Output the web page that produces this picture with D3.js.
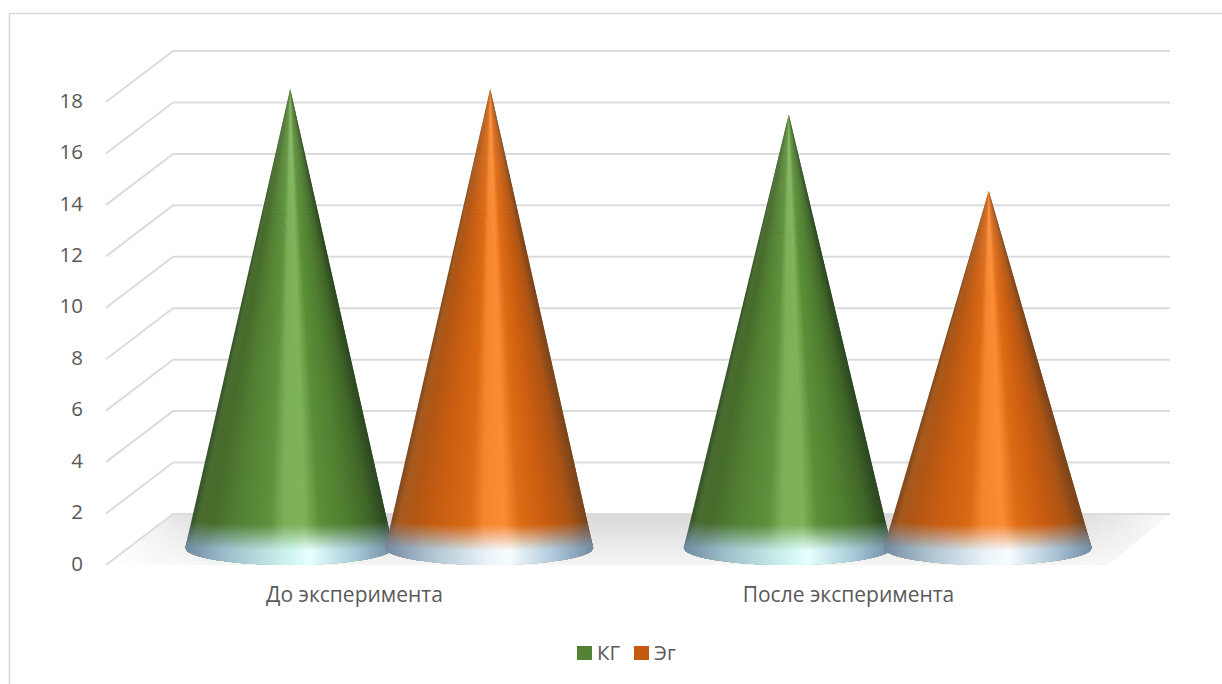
<!DOCTYPE html>
<html>
<head>
<meta charset="utf-8">
<script src="https://cdn.jsdelivr.net/npm/d3@7/dist/d3.min.js"></script>
<style>
  html, body { margin: 0; padding: 0; background: #fff; }
  svg { display: block; }
  text { font-family: "Open Sans", "Noto Sans", sans-serif; fill: #595959; }
</style>
</head>
<body>
<svg id="chart" width="1222" height="684"></svg>
<script>
const categories = ["До эксперимента", "После эксперимента"];
const seriesNames = ["КГ", "Эг"];
const kgValues = [18, 17];
const egValues = [18, 14];
const seriesValues = [kgValues, egValues];
const tickValues = [0, 2, 4, 6, 8, 10, 12, 14, 16, 18];

const seriesColors = ["#548235", "#C55A11"];
// Shading across a cone, from its left silhouette to its right one.
const greenShade = [[0, "#35522a"], [.03, "#4a6c30"], [.1, "#466c2b"], [.22, "#527f33"], [.4, "#5e913c"], [.47, "#7bb058"], [.58, "#7fb35b"], [.66, "#5a8f38"], [.8, "#4f7e30"], [.92, "#406627"], [1, "#2c4722"]];
const orangeShade = [[0, "#7f4a22"], [.03, "#a55a1e"], [.1, "#b25614"], [.22, "#c65d12"], [.4, "#db6a14"], [.47, "#f4862e"], [.58, "#fb8b35"], [.66, "#de6c15"], [.8, "#c85c10"], [.92, "#ab5415"], [1, "#79441c"]];
const shades = [greenShade, orangeShade];
const glowStops = [
  [[0, "#6f8a9f"], [.2, "#9dbfcb"], [.5, "#d0f5f0"], [.6, "#e6ffff"], [.8, "#accfdb"], [1, "#6f8ba3"]],
  [[0, "#73889f"], [.2, "#a9bfce"], [.5, "#ecf5fa"], [.6, "#f6fcff"], [.8, "#b2cbdc"], [1, "#708aa3"]]
];

const svg = d3.select("#chart");
const defs = svg.append("defs");

// Frame of the chart area: only its top and left edges fall inside the page.
svg.append("path").attr("d", "M9.5,684V13.5H1222").attr("fill", "none").attr("stroke", "#d9d9d9").attr("stroke-width", 1.6);

// Plot box: front edge of the value axis and the shift to the back wall.
const y = d3.scaleLinear().domain([0, 18]).range([565, 102]);
const frontLeft = 106, frontRight = 1108, backLeft = 173, backRight = 1170, depth = 51;
const floorPoints = [[frontLeft, y(0)], [backLeft, y(0) - depth], [backRight, y(0) - depth], [frontRight, y(0)]].join(" ");

// Floor: grey toward the back wall, washing out to white at the front and the side corners
const floorGrad = defs.append("linearGradient").attr("id", "floorFill").attr("x1", 0).attr("x2", 1).attr("y1", 0).attr("y2", 0);
[[0, "#ffffff"], [.03, "#f4f4f4"], [.1, "#d9d9d9"], [.9, "#d9d9d9"], [.96, "#ebebeb"], [1, "#fbfbfb"]].forEach(([o, c]) =>
  floorGrad.append("stop").attr("offset", o).attr("stop-color", c));
const floorFade = defs.append("linearGradient").attr("id", "floorFade").attr("x1", 0).attr("x2", 0).attr("y1", 0).attr("y2", 1);
[[0, 0], [1, .75]].forEach(([o, a]) =>
  floorFade.append("stop").attr("offset", o).attr("stop-color", "#fff").attr("stop-opacity", a));
svg.append("polygon").attr("points", floorPoints).attr("fill", "url(#floorFill)");
svg.append("polygon").attr("points", floorPoints).attr("fill", "url(#floorFade)");

// Gridlines run along the side wall and then the back wall
svg.append("g").selectAll("path").data(tickValues).join("path")
  .attr("d", d => `M${frontLeft},${y(d)}L${backLeft},${y(d) - depth}H${backRight}`)
  .attr("fill", "none").attr("stroke", "#dcdcdc").attr("stroke-width", 2);

// Value axis labels
const yAxis = d3.axisLeft(y).tickValues(tickValues).tickSize(0).tickPadding(0);
const axisG = svg.append("g").attr("transform", "translate(83,-2)").call(yAxis);
axisG.select(".domain").remove();
axisG.selectAll("text").style("font-size", "20.5px").style("font-family", null).attr("dy", "0.35em");

// Cone placement
const x0 = d3.scaleBand().domain(categories).range([140, 1137]);
const x1 = d3.scalePoint().domain(seriesNames).range([-100, 100]);
const coneHeight = d3.scaleLinear().domain([0, 18]).range([548, 89]);
const rx = 104, ry = 17, baseY = 548, facets = 110;
const glowLayers = 26;

function shadeScale(stops) {
  return d3.scaleLinear().domain(stops.map(s => s[0])).range(stops.map(s => s[1])).interpolate(d3.interpolateRgb);
}

const coneLayer = svg.append("g");
categories.forEach((cat, ci) => {
  seriesNames.forEach((name, si) => {
    const value = seriesValues[si][ci];
    const cx = x0(cat) + x0.bandwidth() / 2 + x1(name);
    const apex = [cx + 1, coneHeight(value)];
    const key = `c${ci}s${si}`;
    const rim = d3.range(facets + 1).map(i => {
      const u = -1 + 2 * i / facets;
      return [cx + rx * u, baseY + ry * Math.sqrt(Math.max(0, 1 - u * u))];
    });
    const g = coneLayer.append("g");

    // Body: wedges from the apex to the rim, so the shading bands converge at the tip.
    const shade = shadeScale(shades[si]);
    g.append("g").selectAll("polygon").data(d3.range(facets)).join("polygon")
      .attr("points", i => [apex, rim[i], rim[Math.min(facets, i + 2)]].join(" "))
      .attr("fill", i => shade((i + .5) / facets));

    // Pale reflection around the base: stacked translucent bands build a soft upward fade.
    defs.append("clipPath").attr("id", `clip-${key}`).append("polygon").attr("points", [apex, ...rim].join(" "));
    const glow = defs.append("linearGradient").attr("id", `glow-${key}`).attr("gradientUnits", "userSpaceOnUse")
      .attr("x1", cx - rx).attr("x2", cx + rx).attr("y1", 0).attr("y2", 0);
    glowStops[si].forEach(([o, c]) => glow.append("stop").attr("offset", o).attr("stop-color", c));
    g.append("g").attr("clip-path", `url(#clip-${key})`)
      .selectAll("path").data(d3.range(glowLayers)).join("path")
      .attr("d", k => {
        const s = baseY - 31 + k;
        return `M${cx - rx - 2},${s + 3}A${rx + 2},8 0 0 0 ${cx + rx + 2},${s - 4}V${baseY + 30}H${cx - rx - 2}Z`;
      })
      .attr("fill", `url(#glow-${key})`)
      .attr("opacity", k => 1 / (glowLayers - k));
  });
});

// Category labels
const labelX = d3.scalePoint().domain(categories).range([354.5, 848.5]);
svg.append("g").selectAll("text").data(categories).join("text")
  .attr("x", d => labelX(d)).attr("y", 602).attr("text-anchor", "middle")
  .style("font-size", "21px").text(d => d);

// Legend
const legendSwatch = d3.scalePoint().domain(seriesNames).range([577, 634]);
const legend = svg.append("g").selectAll("g").data(seriesNames).join("g");
legend.append("rect").attr("x", d => legendSwatch(d)).attr("y", 646).attr("width", 15).attr("height", 14)
  .attr("fill", (d, i) => seriesColors[i]);
legend.append("text").attr("x", d => legendSwatch(d) + 20).attr("y", 660).style("font-size", "20.5px").text(d => d);
</script>
</body>
</html>
